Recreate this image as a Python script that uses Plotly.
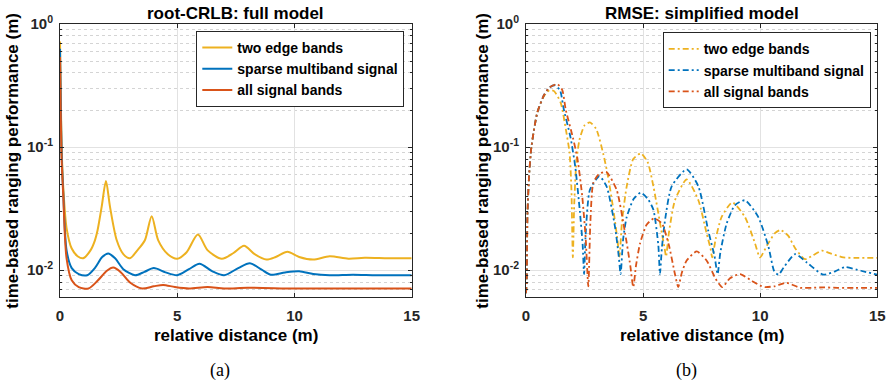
import plotly.graph_objects as go

# ---------------- data ----------------
series_names = ["two edge bands", "sparse multiband signal", "all signal bands"]

# (a) root-CRLB: full model
crlb_edge_x = [0, 0.03, 0.07, 0.14, 0.28, 0.5, 0.75, 0.99, 1.3, 1.49, 1.6, 1.78, 1.96, 2.13, 2.42, 2.7, 2.98,
               3.3, 3.62, 3.91, 4.19, 4.6, 5.0, 5.4, 5.88, 6.3, 6.9, 7.4, 7.85, 8.3, 8.8, 9.2, 9.7, 10.2,
               10.8, 11.5, 12.3, 13.0, 14.0, 15]
crlb_edge_y = [0.72, 0.3, 0.1, 0.047, 0.022, 0.015, 0.013, 0.0125, 0.0145, 0.0175, 0.021, 0.033, 0.053, 0.033,
               0.0175, 0.0135, 0.0125, 0.0145, 0.0175, 0.0275, 0.0175, 0.0135, 0.0124, 0.014, 0.0195, 0.0145,
               0.0124, 0.0138, 0.0158, 0.0135, 0.0122, 0.0128, 0.0141, 0.0128, 0.0122, 0.013, 0.0124, 0.0126,
               0.0125, 0.0125]
crlb_sparse_x = [0, 0.03, 0.07, 0.14, 0.28, 0.5, 0.8, 1.16, 1.5, 1.8, 2.06, 2.35, 2.7, 3.2, 3.6, 4.0, 4.5, 5.0,
                 5.5, 5.95, 6.5, 7.0, 7.6, 8.1, 8.6, 9.0, 9.6, 10.2, 10.8, 11.5, 12.5, 13.5, 15]
crlb_sparse_y = [0.63, 0.25, 0.09, 0.042, 0.0145, 0.0104, 0.0093, 0.0091, 0.0105, 0.0128, 0.0137, 0.0125, 0.0102,
                 0.0091, 0.0097, 0.0104, 0.0096, 0.0091, 0.0102, 0.0113, 0.0098, 0.0091, 0.0104, 0.0114, 0.0101,
                 0.0092, 0.0096, 0.0098, 0.0093, 0.0091, 0.0092, 0.0091, 0.0091]
crlb_all_x = [0, 0.03, 0.07, 0.14, 0.28, 0.5, 0.8, 1.21, 1.6, 2.0, 2.27, 2.6, 3.0, 3.5, 4.0, 4.4, 4.9, 5.5, 6.3,
              7.0, 8, 10, 12, 15]
crlb_all_y = [0.54, 0.2, 0.08, 0.04, 0.0125, 0.0083, 0.0073, 0.0071, 0.0082, 0.0099, 0.0105, 0.0096, 0.0079,
              0.0071, 0.0074, 0.0076, 0.0073, 0.0071, 0.0073, 0.0071, 0.0072, 0.0071, 0.0071, 0.0071]

# (b) RMSE: simplified model
rmse_edge_x = [0, 0.03, 0.06, 0.13, 0.23, 0.48, 0.77, 1.0, 1.2, 1.48, 1.7, 1.86, 1.94, 2.0, 2.06, 2.15, 2.28, 2.5,
               2.73, 3.0, 3.3, 3.5, 3.73, 3.9, 3.99, 4.1, 4.3, 4.58, 4.9, 5.2, 5.44, 5.8, 5.92, 5.98, 6.1, 6.36,
               6.86, 7.36, 7.71, 7.88, 7.95, 8.1, 8.35, 8.81, 9.35, 9.78, 9.99, 10.3, 10.63, 10.87, 11.2, 11.5,
               11.91, 12.25, 12.63, 13.0, 13.55, 14.2, 15]
rmse_edge_y = [0.0065, 0.008, 0.0276, 0.058, 0.1, 0.19, 0.26, 0.29, 0.285, 0.23, 0.14, 0.09, 0.045, 0.0127,
               0.035, 0.075, 0.114, 0.15, 0.159, 0.14, 0.088, 0.058, 0.031, 0.018, 0.0129, 0.025, 0.048, 0.08,
               0.089, 0.075, 0.048, 0.02, 0.015, 0.0129, 0.02, 0.037, 0.0547, 0.037, 0.02, 0.015, 0.0127, 0.018,
               0.027, 0.0355, 0.027, 0.0165, 0.0127, 0.016, 0.02, 0.0212, 0.019, 0.015, 0.0123, 0.0132, 0.0144,
               0.0137, 0.0127, 0.0126, 0.0126]
rmse_sparse_x = [0, 0.03, 0.06, 0.13, 0.23, 0.48, 0.77, 1.0, 1.22, 1.45, 1.62, 1.9, 2.1, 2.3, 2.42, 2.48, 2.55,
                 2.73, 3.13, 3.44, 3.8, 3.96, 4.04, 4.15, 4.3, 4.6, 4.9, 5.2, 5.44, 5.65, 5.72, 5.8, 5.93, 6.22,
                 6.86, 7.36, 7.78, 8.05, 8.18, 8.3, 8.57, 8.92, 9.35, 9.92, 10.35, 10.6, 10.78, 11.0, 11.49, 12.0,
                 12.7, 13.2, 13.62, 14.3, 15]
rmse_sparse_y = [0.0065, 0.008, 0.0276, 0.058, 0.1, 0.19, 0.265, 0.305, 0.318, 0.29, 0.2, 0.12, 0.07, 0.03, 0.016,
                 0.0093, 0.02, 0.045, 0.058, 0.048, 0.0225, 0.013, 0.0093, 0.018, 0.027, 0.038, 0.0427, 0.038,
                 0.031, 0.016, 0.0093, 0.015, 0.025, 0.048, 0.066, 0.048, 0.021, 0.013, 0.0093, 0.014, 0.024,
                 0.0337, 0.037, 0.027, 0.0156, 0.0098, 0.0092, 0.0105, 0.0135, 0.0115, 0.0092, 0.0098, 0.0106,
                 0.0099, 0.0092]
rmse_all_x = [0, 0.03, 0.06, 0.13, 0.23, 0.48, 0.77, 1.0, 1.34, 1.55, 1.7, 2.0, 2.2, 2.4, 2.55, 2.66, 2.75, 2.87,
              3.1, 3.42, 3.87, 4.23, 4.45, 4.58, 4.7, 4.87, 5.15, 5.47, 5.8, 6.1, 6.35, 6.5, 6.65, 6.86, 7.29,
              7.71, 8.1, 8.38, 8.71, 9.14, 9.64, 10.0, 10.2, 10.6, 11.13, 11.7, 12.2, 12.7, 13.3, 14, 15]
rmse_all_y = [0.0065, 0.008, 0.0276, 0.058, 0.1, 0.19, 0.265, 0.305, 0.325, 0.29, 0.2, 0.12, 0.08, 0.04, 0.018,
              0.0074, 0.025, 0.051, 0.06, 0.063, 0.045, 0.02, 0.011, 0.0073, 0.011, 0.0165, 0.0234, 0.0264, 0.024,
              0.016, 0.0095, 0.0073, 0.0095, 0.012, 0.0142, 0.012, 0.0085, 0.0073, 0.0086, 0.0093, 0.0082,
              0.0075, 0.0073, 0.0074, 0.0079, 0.0072, 0.0072, 0.00725, 0.0072, 0.0072, 0.0072]

x_ticks = [0, 5, 10, 15]
y_ticks = [1, 0.1, 0.01]
y_ticktext = ["10<sup>0</sup>", "10<sup>-1</sup>", "10<sup>-2</sup>"]

# ---------------- styling ----------------
colors = ["#EDB120", "#0072BD", "#D95319"]
AX = "#262626"
FONT = "Liberation Sans"
W, H = 888, 381

fig = go.Figure()

left = [(crlb_edge_x, crlb_edge_y), (crlb_sparse_x, crlb_sparse_y), (crlb_all_x, crlb_all_y)]
right = [(rmse_edge_x, rmse_edge_y), (rmse_sparse_x, rmse_sparse_y), (rmse_all_x, rmse_all_y)]

for i, (xs, ys) in enumerate(left):
    fig.add_trace(go.Scatter(x=xs, y=ys, mode="lines", name=series_names[i],
                             line=dict(color=colors[i], width=2, shape="spline", smoothing=0.8),
                             xaxis="x", yaxis="y", legend="legend"))
for i, (xs, ys) in enumerate(right):
    fig.add_trace(go.Scatter(x=xs, y=ys, mode="lines", name=series_names[i],
                             line=dict(color=colors[i], width=1.8, shape="spline", smoothing=0.6,
                                       dash="6px,3px,2px,3px"),
                             xaxis="x2", yaxis="y2", legend="legend2"))

ydom = [1 - 297.3 / H, 1 - 24 / H]
minor_vals = [m * 10 ** e for e in (-3, -2, -1) for m in range(2, 10)]


def xaxis(domain, anchor):
    return dict(domain=domain, anchor=anchor, range=[0, 15], tickvals=x_ticks, automargin=False,
                showline=True, linecolor=AX, linewidth=1, mirror="ticks",
                ticks="inside", ticklen=4, tickcolor=AX,
                showgrid=True, gridcolor="#e2e2e2", gridwidth=1, zeroline=False,
                tickfont=dict(family=FONT, size=15, color=AX, weight="bold"),
                ticklabelstandoff=5)


def yaxis(anchor):
    return dict(domain=ydom, anchor=anchor, type="log", range=[-2.22, 0], automargin=False,
                tickvals=y_ticks, ticktext=y_ticktext,
                showline=True, linecolor=AX, linewidth=1, mirror="ticks",
                ticks="inside", ticklen=4, tickcolor=AX,
                showgrid=True, gridcolor="#e2e2e2", gridwidth=1, zeroline=False,
                minor=dict(tickmode="array", tickvals=minor_vals, ticks="inside", ticklen=2,
                           tickcolor=AX, showgrid=True, gridcolor="#d4d4d4", griddash="dot",
                           gridwidth=1),
                tickfont=dict(family=FONT, size=15, color=AX, weight="bold"),
                ticklabelstandoff=3)


legend_common = dict(xanchor="right", yanchor="top", bgcolor="white", bordercolor=AX, borderwidth=1,
                     font=dict(family=FONT, size=14, color="black", weight="bold"),
                     itemwidth=30, tracegroupgap=0)

fig.update_layout(
    width=W, height=H,
    margin=dict(l=0, r=0, t=0, b=0, autoexpand=False),
    paper_bgcolor="white", plot_bgcolor="white",
    xaxis=xaxis([60 / W, 411.7 / W], "y"),
    yaxis=yaxis("x"),
    xaxis2=xaxis([526 / W, 877.3 / W], "y2"),
    yaxis2=yaxis("x2"),
    legend=dict(x=404.3 / W, y=1 - 31 / H, **legend_common),
    legend2=dict(x=870.7 / W, y=1 - 32.3 / H, **legend_common),
    showlegend=True,
)

ann_font = dict(family=FONT, size=17, color="black", weight="bold")
annotations = [
    dict(text="root-CRLB: full model", x=235.9 / W, y=1 - 13 / H),
    dict(text="RMSE: simplified model", x=701.7 / W, y=1 - 13 / H),
    dict(text="relative distance (m)", x=235.9 / W, y=1 - 335 / H),
    dict(text="relative distance (m)", x=701.7 / W, y=1 - 335 / H),
    dict(text="time-based ranging performance (m)", x=13 / W, y=1 - 160.7 / H, textangle=-90),
    dict(text="time-based ranging performance (m)", x=483 / W, y=1 - 160.7 / H, textangle=-90),
]
for a in annotations:
    fig.add_annotation(xref="paper", yref="paper", showarrow=False, xanchor="center", yanchor="middle",
                       font=ann_font, **a)
for txt, cx in (("(a)", 220), ("(b)", 686)):
    fig.add_annotation(text=txt, xref="paper", yref="paper", x=cx / W, y=1 - 370 / H, showarrow=False,
                       xanchor="center", yanchor="middle",
                       font=dict(family="Liberation Serif", size=18, color="black"))

fig.write_html("out.html")
